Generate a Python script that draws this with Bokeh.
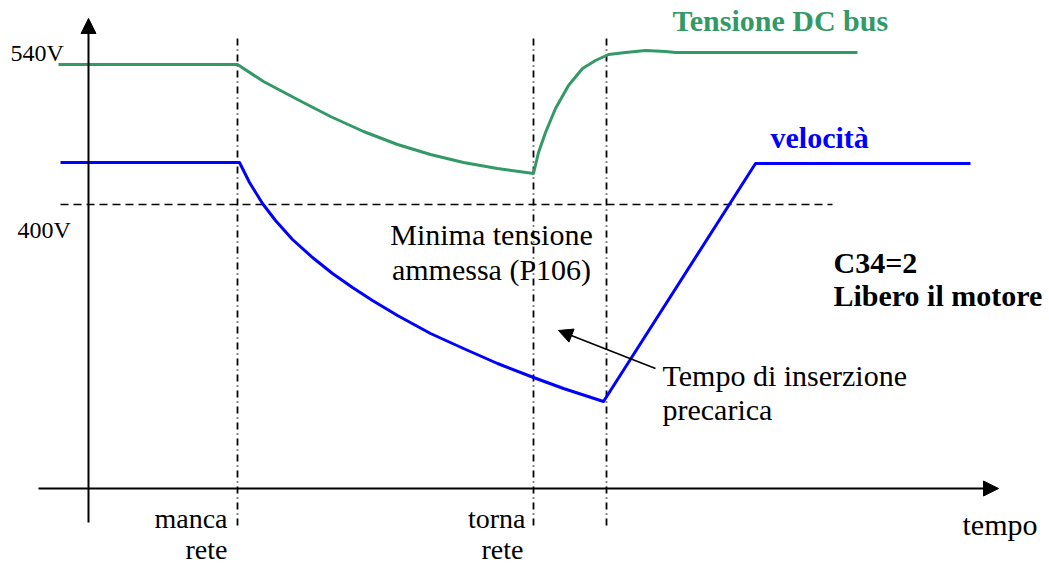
from bokeh.plotting import figure
from bokeh.models import Range1d, Arrow, NormalHead
from bokeh.core.properties import value
from bokeh.embed import file_html
from bokeh.resources import INLINE

# ---- data (time in arbitrary units, voltage-like vertical units) ----
dc_t = [-30, 149, 175, 209, 242, 275, 309, 342, 375, 409, 445,
        450, 457, 467, 480, 494, 507, 520, 537, 557, 577, 587, 607, 769]
dc_v = [540, 540, 523, 505, 488, 473, 460, 450, 442, 436, 431,
        452, 472, 496, 519, 536, 544, 550, 552, 554, 553, 552, 552, 552]

vel_t = [-28, 151, 161, 174, 187, 204, 224, 244, 264, 284, 309, 342, 375, 409, 445, 475, 515, 667, 882]
vel_v = [442, 442, 422, 401, 384, 365, 347, 331, 317, 304, 289, 271, 256, 241, 227, 216, 203, 441, 441]

min_t = [-28, 744]
min_v = [400, 400]

event_t = [149, 445, 518]
event_top = 566
event_bot = 79

axis_x0 = 0
axis_y0 = 116

serif = value("Liberation Serif")
GREEN = "#339966"
BLUE = "#0000FF"

p = figure(width=1049, height=565, output_backend="svg", toolbar_location=None,
           x_range=Range1d(-88, 961), y_range=Range1d(39, 604),
           x_axis_location=None, y_axis_location=None, min_border=0)
p.grid.visible = False
p.outline_line_color = None
p.background_fill_color = "white"
p.border_fill_color = "white"

# event (dash-dot) lines
for t in event_t:
    p.line([t, t], [event_bot, event_top], line_color="black", line_width=1.8, line_dash="7 4 1 4")

# minimum voltage dashed line
p.line(min_t, min_v, line_color="black", line_width=1.5, line_dash="8 5")

# curves
p.line(dc_t, dc_v, line_color=GREEN, line_width=3, line_join="round")
p.line(vel_t, vel_v, line_color=BLUE, line_width=3, line_join="round")

# axes with arrows
p.add_layout(Arrow(end=NormalHead(size=15, fill_color="black", line_color="black"),
                   x_start=axis_x0, y_start=82, x_end=axis_x0, y_end=586,
                   line_color="black", line_width=2))
p.add_layout(Arrow(end=NormalHead(size=15, fill_color="black", line_color="black"),
                   x_start=-50, y_start=axis_y0, x_end=910, y_end=axis_y0,
                   line_color="black", line_width=2))

# annotation arrow
p.add_layout(Arrow(end=NormalHead(size=14, fill_color="black", line_color="black"),
                   x_start=567, y_start=236, x_end=470, y_end=274,
                   line_color="black", line_width=1.5))

# texts
def txt(xs, ys, texts, size, color="black", style="normal", align="left"):
    p.text(x=xs, y=ys, text=texts, text_font=serif, text_font_size=size,
           text_color=color, text_font_style=style, text_align=align,
           text_baseline="middle")

txt([-78, -71], [552, 375], ["540V", "400V"], "24px")
txt([584], [584], ["Tensione DC bus"], "30px", GREEN, "bold")
txt([682], [467], ["velocità"], "30px", BLUE, "bold")
txt([745, 745], [342, 309], ["C34=2", "Libero il motore"], "30px", "black", "bold")
txt([403, 403], [370, 335], ["Minima tensione", "ammessa (P106)"], "30px", align="center")
txt([574, 574], [229, 195], ["Tempo di inserzione", "precarica"], "30px")
txt([139, 139, 437, 435], [86, 55, 86, 55], ["manca", "rete", "torna", "rete"], "28px", align="right")
txt([874], [80], ["tempo"], "30px")

open("out.html", "w").write(file_html(p, INLINE))
